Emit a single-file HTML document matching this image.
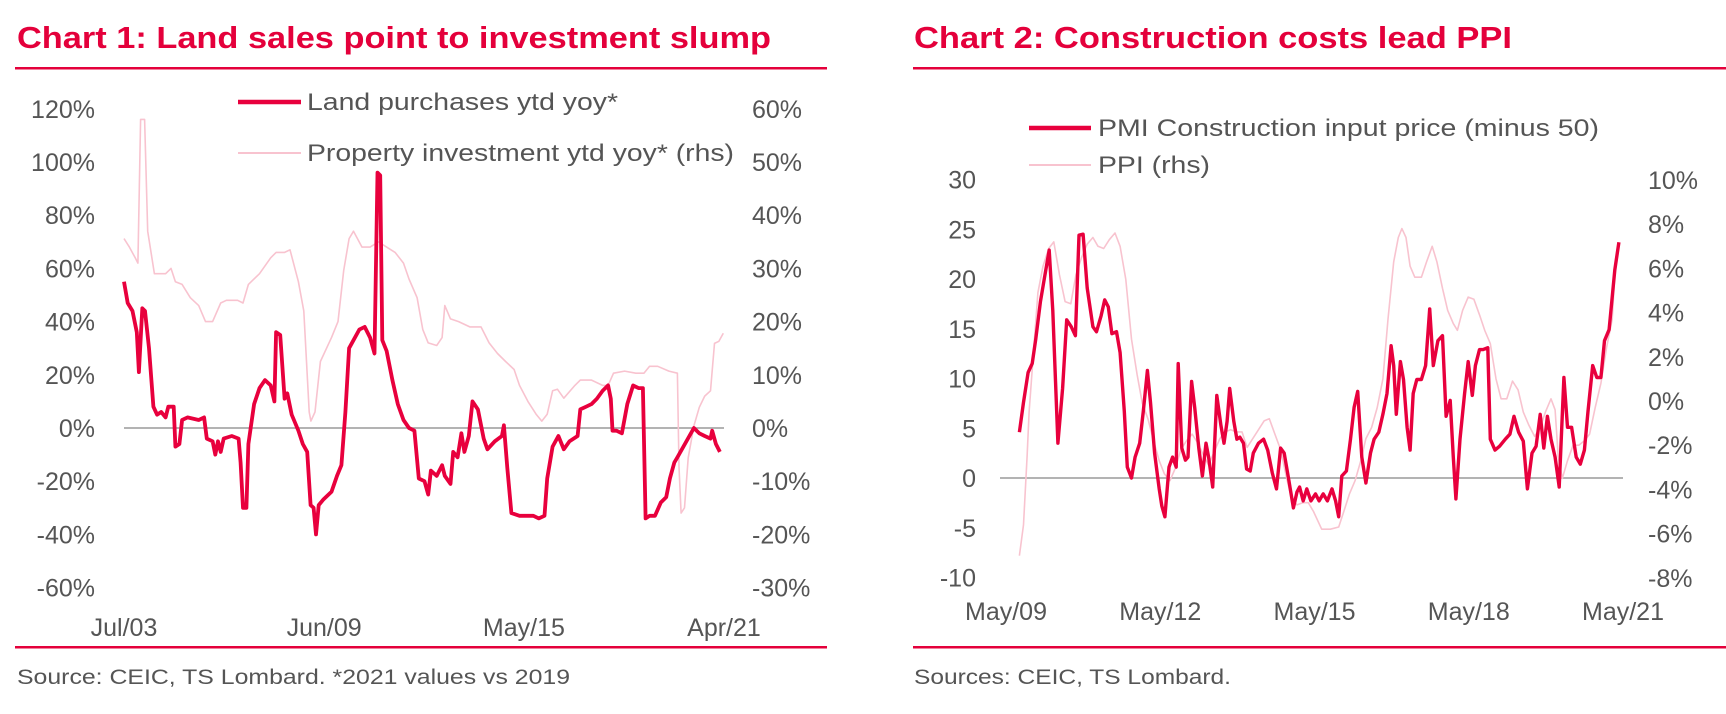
<!DOCTYPE html>
<html><head><meta charset="utf-8"><style>
html,body{margin:0;padding:0;background:#fff;}
svg{display:block;font-family:"Liberation Sans",sans-serif;}
.t{fill:#e4003b;font-weight:bold;font-size:31px;}
.ax{fill:#555;font-size:25px;}
.lg{fill:#555;font-size:24px;}
.src{fill:#555;font-size:21px;}
</style></head><body>
<svg id="svg" width="1726" height="714" viewBox="0 0 1726 714">
<text class="t" x="17" y="48" textLength="754" lengthAdjust="spacingAndGlyphs">Chart 1: Land sales point to investment slump</text>
<rect x="15" y="67" width="812" height="2.5" fill="#e4003b"/>
<rect x="15" y="646" width="812" height="2.5" fill="#e4003b"/>
<text class="src" x="17" y="684" textLength="553" lengthAdjust="spacingAndGlyphs">Source: CEIC, TS Lombard. *2021 values vs 2019</text>
<text class="t" x="914" y="48" textLength="598" lengthAdjust="spacingAndGlyphs">Chart 2: Construction costs lead PPI</text>
<rect x="913" y="67" width="813" height="2.5" fill="#e4003b"/>
<rect x="913" y="646" width="813" height="2.5" fill="#e4003b"/>
<text class="src" x="914" y="684" textLength="317" lengthAdjust="spacingAndGlyphs">Sources: CEIC, TS Lombard.</text>
<g id="c1"></g>
<g id="c2"></g>
</svg>
<script>
// ---- Chart 1 data ----
const c1LeftTicks = [120,100,80,60,40,20,0,-20,-40,-60];
const c1RightTicks = [60,50,40,30,20,10,0,-10,-20,-30];
const c1XLabels = ["Jul/03","Jun/09","May/15","Apr/21"];
const c1XLabelDates = [2003.5,2009.42,2015.33,2021.25];
const landDates = [2003.50,2003.61,2003.75,2003.88,2003.94,2004.04,2004.12,2004.24,2004.37,2004.48,2004.60,2004.73,2004.81,2004.97,2005.02,2005.14,2005.22,2005.38,2005.71,2005.87,2005.95,2006.12,2006.20,2006.28,2006.36,2006.45,2006.69,2006.89,2006.95,2007.02,2007.12,2007.18,2007.35,2007.51,2007.67,2007.84,2007.95,2008.00,2008.12,2008.25,2008.33,2008.46,2008.66,2008.79,2008.92,2009.02,2009.11,2009.18,2009.26,2009.39,2009.64,2009.80,2009.93,2010.05,2010.16,2010.29,2010.46,2010.62,2010.78,2010.91,2011.00,2011.08,2011.14,2011.27,2011.44,2011.60,2011.77,2011.93,2012.09,2012.22,2012.39,2012.50,2012.58,2012.75,2012.91,2012.99,2013.16,2013.24,2013.37,2013.48,2013.57,2013.70,2013.81,2013.97,2014.14,2014.25,2014.47,2014.68,2014.74,2014.84,2014.96,2015.20,2015.45,2015.61,2015.77,2015.94,2016.02,2016.18,2016.35,2016.51,2016.68,2016.92,2017.00,2017.17,2017.33,2017.49,2017.66,2017.82,2017.90,2017.95,2018.07,2018.23,2018.39,2018.56,2018.72,2018.85,2018.93,2019.05,2019.21,2019.38,2019.54,2019.65,2019.78,2019.87,2020.36,2020.52,2020.68,2020.85,2020.90,2021.01,2021.13];
const landValues = [55,47,44,36,21,45,44,30,8,5,6,4,8,8,-7,-6,3,4,3,4,-4,-5,-10,-5,-9,-4,-3,-4,-13,-30,-30,-6,9,15,18,16,10,36,35,11,13,5,-1,-6,-9,-29,-30,-40,-29,-27,-24,-18,-14,6,30,33,37,38,34,28,96,95,33,29,18,9,3,0,-1,-19,-20,-25,-16,-18,-14,-18,-21,-9,-11,-2,-9,-3,10,7,-4,-8,-5,-3,1,-15,-32,-33,-33,-33,-34,-33,-19,-7,-3,-8,-5,-3,7,8,9,11,14,16,11,-1,-1,-2,9,16,15,15,-34,-33,-33,-28,-26,-19,-13,-11,0,-2,-3,-4,-1,-6,-9];
const invDates = [2003.50,2003.66,2003.83,2003.91,2003.99,2004.11,2004.20,2004.40,2004.56,2004.73,2004.89,2005.02,2005.22,2005.46,2005.71,2005.91,2006.12,2006.36,2006.53,2006.86,2007.02,2007.18,2007.51,2007.84,2008.00,2008.25,2008.41,2008.66,2008.82,2008.98,2009.03,2009.15,2009.31,2009.64,2009.83,2010.00,2010.16,2010.29,2010.54,2010.78,2011.03,2011.27,2011.52,2011.77,2011.93,2012.17,2012.34,2012.50,2012.75,2012.91,2012.99,2013.16,2013.40,2013.73,2014.06,2014.30,2014.55,2014.79,2015.04,2015.20,2015.45,2015.69,2015.86,2016.02,2016.18,2016.32,2016.51,2016.84,2017.00,2017.33,2017.66,2017.82,2017.98,2018.31,2018.64,2018.88,2019.05,2019.29,2019.62,2019.87,2019.92,2019.98,2020.08,2020.19,2020.36,2020.52,2020.68,2020.85,2020.97,2021.10,2021.23];
const invValues = [35.6,34,32,31,58,58,37,29,29,29,30,27.5,27,24.5,23,20,20,23.5,24,24,23.5,27,29,32,33,33,33.5,27.5,22,3,1.3,3,12.5,17,20,29.6,35.6,37,34,34,35,34,33,31,28,24.5,18.5,16,15.5,17,23,20.5,20,19,19,16,14,12.5,11,8,5,2.6,1.3,2.6,7,7.3,5.6,8,9,9,8,8,10.3,10.7,10.3,10.3,11.6,11.6,10.7,10.3,-7.3,-16,-15,-5.6,0.4,3.9,6,7,15.9,16.3,17.8];

// ---- Chart 2 data ----
const c2LeftTicks = [30,25,20,15,10,5,0,-5,-10];
const c2RightTicks = ["10%","8%","6%","4%","2%","0%","-2%","-4%","-6%","-8%"];
const c2RightTickValues = [10,8,6,4,2,0,-2,-4,-6,-8];
const c2XLabels = ["May/09","May/12","May/15","May/18","May/21"];
const c2XLabelDates = [2009.33,2012.33,2015.33,2018.33,2021.33];
const pmiDates = [2009.59,2009.67,2009.76,2009.84,2009.91,2010.00,2010.08,2010.17,2010.24,2010.34,2010.43,2010.51,2010.60,2010.68,2010.75,2010.83,2010.91,2011.02,2011.09,2011.18,2011.25,2011.32,2011.39,2011.48,2011.55,2011.63,2011.69,2011.77,2011.84,2011.93,2012.00,2012.08,2012.14,2012.22,2012.31,2012.36,2012.42,2012.50,2012.57,2012.64,2012.68,2012.75,2012.82,2012.87,2012.94,2013.00,2013.08,2013.15,2013.22,2013.27,2013.35,2013.43,2013.51,2013.57,2013.63,2013.68,2013.76,2013.82,2013.88,2013.95,2014.01,2014.08,2014.14,2014.24,2014.34,2014.42,2014.51,2014.59,2014.67,2014.74,2014.83,2014.92,2014.99,2015.04,2015.11,2015.18,2015.26,2015.35,2015.42,2015.50,2015.58,2015.67,2015.74,2015.80,2015.86,2015.95,2016.03,2016.10,2016.17,2016.25,2016.33,2016.42,2016.49,2016.58,2016.66,2016.74,2016.82,2016.87,2016.92,2017.00,2017.06,2017.13,2017.19,2017.25,2017.32,2017.41,2017.49,2017.57,2017.64,2017.73,2017.82,2017.89,2017.97,2018.03,2018.08,2018.16,2018.25,2018.32,2018.40,2018.46,2018.54,2018.61,2018.70,2018.75,2018.84,2018.93,2019.04,2019.13,2019.21,2019.30,2019.39,2019.47,2019.56,2019.64,2019.72,2019.79,2019.86,2019.93,2020.01,2020.09,2020.18,2020.25,2020.33,2020.42,2020.50,2020.58,2020.65,2020.74,2020.82,2020.90,2020.97,2021.06,2021.17,2021.25];
const pmiValues = [4.6,7.6,10.6,11.5,14,17.7,20.2,22.9,16.8,3.5,9,15.9,15.2,14.3,24.4,24.5,19.1,15.2,14.7,16.3,17.9,17.2,14.5,14.7,12.6,6.7,1.1,0,2.1,3.5,6.7,10.8,7.6,2.5,-1.1,-2.8,-3.9,1.1,2.1,1.1,11.5,3,1.8,2.1,9.7,7.1,3,0.2,3.5,2.1,-0.9,8.3,5.3,3.5,5.7,9,5.7,3.9,4.1,3.5,0.9,0.7,2.5,3.5,3.9,2.8,0.5,-1.1,3,2.5,-0.2,-3,-1.4,-0.9,-2.3,-1.1,-2.3,-1.6,-2.3,-1.6,-2.3,-1.1,-2.3,-3.9,0.2,0.7,3.9,7.1,8.7,2.1,-0.5,2.5,3.9,4.6,6.4,8.5,13.3,11.3,6.4,11.7,9.9,5.1,2.8,8.5,9.9,9.9,11.3,17,11.3,13.8,14.3,6.2,7.8,2.1,-2.1,3.9,8.5,11.7,8.3,11.3,12.9,12.9,13.1,3.9,2.8,3.2,3.9,4.4,6.2,4.6,3.7,-1.1,2.5,3.2,6.4,3,6.2,3.9,2.1,-0.9,10.1,5.1,5.1,2.1,1.4,2.8,6.7,11.3,10.1,10.1,13.8,14.9,20.9,23.7];
const ppiDates = [2009.59,2009.67,2009.74,2009.78,2009.87,2009.95,2010.05,2010.16,2010.26,2010.37,2010.48,2010.59,2010.69,2010.80,2010.91,2011.02,2011.12,2011.23,2011.34,2011.45,2011.55,2011.66,2011.77,2011.88,2011.98,2012.09,2012.20,2012.31,2012.41,2012.52,2012.63,2012.73,2012.84,2012.95,2013.06,2013.16,2013.27,2013.38,2013.49,2013.59,2013.70,2013.81,2013.92,2014.02,2014.13,2014.24,2014.35,2014.45,2014.56,2014.67,2014.78,2014.88,2014.99,2015.10,2015.21,2015.31,2015.47,2015.64,2015.80,2015.90,2016.01,2016.12,2016.23,2016.33,2016.44,2016.55,2016.66,2016.76,2016.87,2016.96,2017.03,2017.11,2017.19,2017.28,2017.41,2017.51,2017.62,2017.71,2017.82,2017.92,2018.03,2018.11,2018.21,2018.32,2018.43,2018.54,2018.64,2018.75,2018.86,2018.96,2019.07,2019.18,2019.29,2019.39,2019.50,2019.61,2019.72,2019.82,2019.93,2020.01,2020.07,2020.15,2020.25,2020.36,2020.47,2020.58,2020.68,2020.79,2020.90,2021.01,2021.12,2021.19];
const ppiValues = [-7,-5.6,-2.5,-0.5,2.4,4.9,6.1,6.9,7.2,5.7,4.5,4.4,5.7,6.5,7.1,7.4,7,6.9,7.3,7.6,7,5.5,2.8,1.2,-0.1,-0.8,-1.8,-2.7,-3.3,-3.6,-3,-2.2,-1.8,-1.5,-1.9,-2.4,-2.9,-2.3,-1.7,-1.4,-1.3,-1.4,-1.4,-2.1,-1.7,-1.3,-0.9,-0.8,-1.5,-2.2,-3.4,-4.4,-4.7,-4.6,-4.6,-5,-5.8,-5.8,-5.7,-5,-4.2,-3.6,-2.7,-1.7,-1.2,-0.3,1,3.7,6.3,7.4,7.8,7.4,6.1,5.6,5.6,6.3,7,6.3,5.1,4.1,3.5,3.2,4.1,4.7,4.6,3.9,3.2,2.6,1,0.1,0.1,0.9,0.5,-0.5,-1.1,-1.6,-1.2,-0.5,0.1,-0.4,-2.5,-3.5,-2.7,-2,-2,-1.8,-1.5,-0.3,0.8,2.4,3.7,6.5];

const NS = "http://www.w3.org/2000/svg";
function mk(parent, tag, attrs, text){
  const e = document.createElementNS(NS, tag);
  for (const k in attrs) e.setAttribute(k, attrs[k]);
  if (text !== undefined) e.textContent = text;
  parent.appendChild(e);
  return e;
}
function pathFrom(xs, ys, fx, fy){
  return xs.map((d,i)=>(i?"L":"M")+fx(d).toFixed(1)+","+fy(ys[i]).toFixed(1)).join("");
}

// ---- Chart 1 ----
const g1 = document.getElementById("c1");
const x1 = d => 124 + (d - 2003.5) * (600 / 17.75);
const y1L = v => 428 - v * 2.66;
const y1R = v => 428 - v * 5.32;
c1LeftTicks.forEach(v => {
  const t = mk(g1, "text", {x: 95, y: y1L(v) + 9, "text-anchor": "end", class: "ax"}, v + "%");
  
  
});
c1RightTicks.forEach(v => {
  const t = mk(g1, "text", {x: 752, y: y1R(v) + 9, class: "ax"}, v + "%");
  
  
});
c1XLabels.forEach((l, i) => {
  const t = mk(g1, "text", {x: x1(c1XLabelDates[i]), y: 636, "text-anchor": "middle", class: "ax"}, l);
  
  
});
const z1 = mk(g1, "line", {x1: 124, x2: 724, y1: y1L(0), y2: y1L(0), stroke: "#9a9a9a", "stroke-width": 1.6});


const inv = mk(g1, "path", {d: pathFrom(invDates, invValues, x1, y1R), fill: "none", stroke: "#f8c3cf", "stroke-width": 1.6, "stroke-linejoin": "round"});


const land = mk(g1, "path", {d: pathFrom(landDates, landValues, x1, y1L), fill: "none", stroke: "#e8003d", "stroke-width": 3.8, "stroke-linejoin": "round"});


const l1a = mk(g1, "line", {x1: 238, x2: 301, y1: 102, y2: 102, stroke: "#e8003d", "stroke-width": 4.5});


const l1at = mk(g1, "text", {x: 307, y: 110, class: "lg", textLength: 311, lengthAdjust: "spacingAndGlyphs"}, "Land purchases ytd yoy*");


const l1b = mk(g1, "line", {x1: 238, x2: 301, y1: 153, y2: 153, stroke: "#f8c3cf", "stroke-width": 2});


const l1bt = mk(g1, "text", {x: 307, y: 161, class: "lg", textLength: 427, lengthAdjust: "spacingAndGlyphs"}, "Property investment ytd yoy* (rhs)");



// ---- Chart 2 ----
const g2 = document.getElementById("c2");
const x2 = d => 1006 + (d - 2009.33) * (617 / 12);
const y2L = v => 478 - v * 9.95;
const y2R = v => 401 - v * 22.1;
c2LeftTicks.forEach(v => {
  const t = mk(g2, "text", {x: 976, y: y2L(v) + 9, "text-anchor": "end", class: "ax"}, String(v));
  
  
});
c2RightTicks.forEach((l, i) => {
  const t = mk(g2, "text", {x: 1648, y: y2R(c2RightTickValues[i]) + 9, class: "ax"}, l);
  
  
});
c2XLabels.forEach((l, i) => {
  const t = mk(g2, "text", {x: x2(c2XLabelDates[i]), y: 620, "text-anchor": "middle", class: "ax"}, l);
  
  
});
const z2 = mk(g2, "line", {x1: 1000, x2: 1623, y1: y2L(0), y2: y2L(0), stroke: "#9a9a9a", "stroke-width": 1.6});


const ppi = mk(g2, "path", {d: pathFrom(ppiDates, ppiValues, x2, y2R), fill: "none", stroke: "#f8c3cf", "stroke-width": 1.6, "stroke-linejoin": "round"});


const pmi = mk(g2, "path", {d: pathFrom(pmiDates, pmiValues, x2, y2L), fill: "none", stroke: "#e8003d", "stroke-width": 3.4, "stroke-linejoin": "round"});


const l2a = mk(g2, "line", {x1: 1029, x2: 1091, y1: 128, y2: 128, stroke: "#e8003d", "stroke-width": 4.5});


const l2at = mk(g2, "text", {x: 1098, y: 136, class: "lg", textLength: 501, lengthAdjust: "spacingAndGlyphs"}, "PMI Construction input price (minus 50)");


const l2b = mk(g2, "line", {x1: 1029, x2: 1091, y1: 165, y2: 165, stroke: "#f8c3cf", "stroke-width": 2});


const l2bt = mk(g2, "text", {x: 1098, y: 173, class: "lg", textLength: 112, lengthAdjust: "spacingAndGlyphs"}, "PPI (rhs)");


</script>
</body></html>
